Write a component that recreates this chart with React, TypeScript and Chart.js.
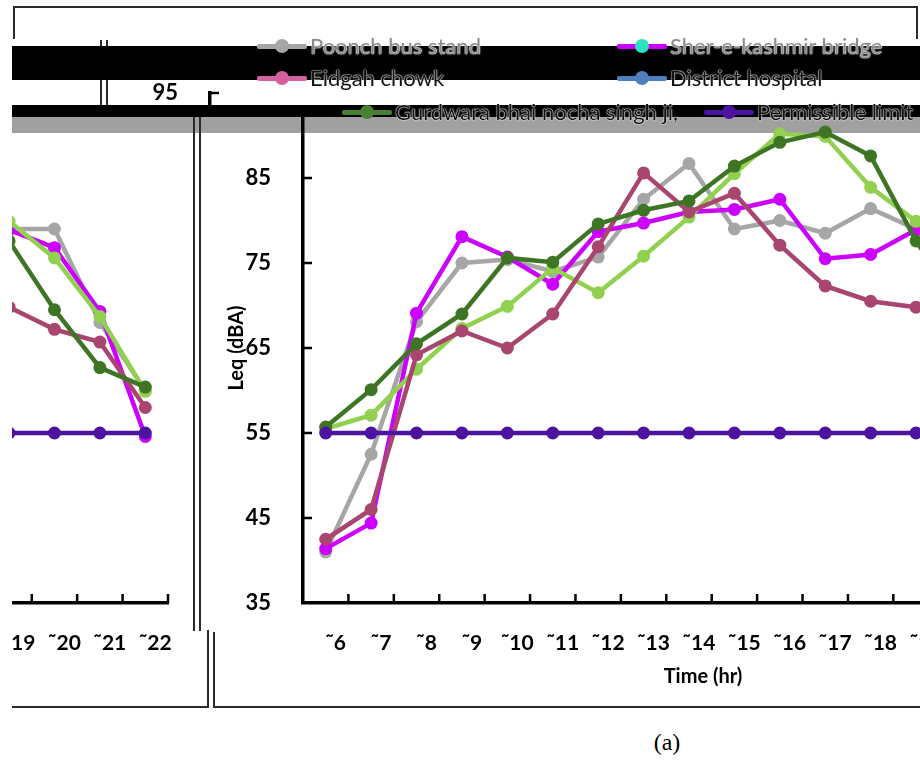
import React, { useEffect, useRef } from 'react';
import { Chart, registerables } from 'chart.js';

Chart.register(...registerables);

// ---------- data ----------
const hours = ['6', '7', '8', '9', '10', '11', '12', '13', '14', '15', '16', '17', '18', '19', '20', '21', '22'];
const tickPrefix = '\u02DC';
const yMin = 35;
const yMax = 95;
const yStep = 10;

const poonchBusStand = [41.0, 52.5, 68.1, 75.0, 75.4, 74.0, 75.7, 82.5, 86.7, 79.0, 80.0, 78.5, 81.4, 79.0, 79.0, 68.0, 60.0];
const sherEKashmirBridge = [41.4, 44.4, 69.1, 78.1, 75.7, 72.5, 78.7, 79.7, 81.0, 81.3, 82.5, 75.5, 76.0, 78.9, 76.8, 69.3, 54.6];
const eidgahChowk = [42.5, 46.0, 64.2, 67.0, 65.0, 69.0, 76.9, 85.6, 81.0, 83.2, 77.1, 72.3, 70.5, 69.8, 67.2, 65.7, 58.0];
const districtHospital = [55.5, 57.1, 62.5, 67.3, 69.9, 74.4, 71.5, 75.8, 80.4, 85.5, 90.2, 89.9, 83.9, 79.9, 75.6, 68.7, 59.9];
const gurdwaraBhaiNochaSinghJi = [55.7, 60.1, 65.5, 69.0, 75.6, 75.1, 79.6, 81.2, 82.3, 86.4, 89.2, 90.4, 87.6, 77.6, 69.5, 62.7, 60.4];
const permissibleLimit = [55, 55, 55, 55, 55, 55, 55, 55, 55, 55, 55, 55, 55, 55, 55, 55, 55];

// drawn top-most first
const seriesLabels = ['Permissible limit', 'Gurdwara bhai nocha singh ji', 'Eidgah chowk', 'District hospital', 'Sher-e-kashmir bridge', 'Poonch bus stand'];
const seriesData = [permissibleLimit, gurdwaraBhaiNochaSinghJi, eidgahChowk, districtHospital, sherEKashmirBridge, poonchBusStand];
const seriesColors = ['#4b139f', '#3e7524', '#a9466f', '#92d050', '#cc00ff', '#a6a6a6'];

// legend (as shown in the picture)
const legendLabels = ['Poonch bus stand', 'Sher-e-kashmir bridge', 'Eidgah chowk', 'District hospital', 'Gurdwara bhai nocha singh ji,', 'Permissible limit'];
const legendColors = ['#a6a6a6', '#cc00ff', '#d4609e', '#4f7fbf', '#4a8033', '#4b139f'];
const legendDotColors = ['#a6a6a6', '#2fe0c0', '#d4609e', '#4f7fbf', '#4a8033', '#4b139f'];
const legendTextColors = ['#8a8a8a', '#8a8a8a', '#111', '#111', '#111', '#111'];

const FONT = 'Lato, "Open Sans", sans-serif';
const CW = 1100;
const CH = 760;

const innerTicks = {
  id: 'innerTicks',
  afterDatasetsDraw(chart: any) {
    const { ctx, chartArea, scales } = chart;
    const xs = scales.x;
    const ys = scales.y;
    ctx.save();
    ctx.strokeStyle = '#000';
    ctx.lineWidth = 2.5;
    ctx.beginPath();
    ys.ticks.forEach((t: any) => {
      if (t.value === yMin) return;
      const py = ys.getPixelForValue(t.value);
      ctx.moveTo(chartArea.left, py);
      ctx.lineTo(chartArea.left + 9, py);
    });
    const n = xs.ticks.length;
    for (let i = 0; i < n; i++) {
      const px = i < n - 1 ? (xs.getPixelForValue(i) + xs.getPixelForValue(i + 1)) / 2 : chartArea.right;
      ctx.moveTo(px, chartArea.bottom);
      ctx.lineTo(px, chartArea.bottom - 9);
    }
    ctx.stroke();
    ctx.restore();
  },
};

function makeConfig(): any {
  return {
    type: 'line',
    data: {
      labels: hours.map((h) => tickPrefix + h),
      datasets: seriesLabels.map((label, i) => ({
        label,
        data: [...seriesData[i]],
        borderColor: seriesColors[i],
        backgroundColor: seriesColors[i],
        pointBackgroundColor: seriesColors[i],
        pointBorderColor: seriesColors[i],
        pointBorderWidth: 0,
        pointRadius: 6.5,
        borderWidth: 4.5,
        tension: 0,
        fill: false,
      })),
    },
    options: {
      responsive: false,
      animation: false,
      devicePixelRatio: 1,
      layout: { padding: { left: 203, top: 93, right: 25, bottom: 0 } },
      plugins: { legend: { display: false }, tooltip: { enabled: false } },
      scales: {
        x: {
          type: 'category',
          offset: true,
          grid: { display: false, offset: true },
          border: { display: true, color: '#000', width: 3.5 },
          ticks: {
            color: '#000',
            font: { family: FONT, size: 21, weight: 'bold' },
            padding: 20,
            labelOffset: 10,
            maxRotation: 0,
            autoSkip: false,
          },
          afterFit: (s: any) => {
            s.height = 157;
          },
        },
        y: {
          min: yMin,
          max: yMax,
          grid: { display: false },
          border: { display: true, color: '#000', width: 3.5 },
          ticks: {
            stepSize: yStep,
            color: '#000',
            padding: 24,
            font: { family: FONT, size: 22, weight: 'bold' },
          },
          title: {
            display: true,
            text: 'Leq (dBA)',
            color: '#000',
            font: { family: FONT, size: 20, weight: 'bold' },
            padding: { top: 22, bottom: 0 },
          },
          afterFit: (s: any) => {
            s.width = 100;
          },
        },
      },
    },
    plugins: [innerTicks],
  };
}

function ChartView({ left, top }: { left: number; top: number }) {
  const ref = useRef<HTMLCanvasElement | null>(null);
  useEffect(() => {
    if (!ref.current) return;
    const chart = new Chart(ref.current, makeConfig());
    return () => chart.destroy();
  }, []);
  return (
    <canvas
      ref={ref}
      width={CW}
      height={CH}
      style={{ position: 'absolute', left, top, width: CW, height: CH, display: 'block' }}
    />
  );
}

function Clip({ x, y, w, h, shift }: { x: number; y: number; w: number; h: number; shift: number }) {
  return (
    <div style={{ position: 'absolute', left: x, top: y, width: w, height: h, overflow: 'hidden' }}>
      <ChartView left={shift - x} top={-y} />
    </div>
  );
}

function Box({ x, y, w, h, c }: { x: number; y: number; w: number; h: number; c: string }) {
  return <div style={{ position: 'absolute', left: x, top: y, width: w, height: h, background: c }} />;
}

function LegendItem({ dotX, y, idx }: { dotX: number; y: number; idx: number }) {
  return (
    <>
      <div style={{ position: 'absolute', left: dotX - 25, top: y - 2.5, width: 50, height: 5, background: legendColors[idx], borderRadius: 2 }} />
      <div style={{ position: 'absolute', left: dotX - 7, top: y - 7, width: 14, height: 14, borderRadius: 7, background: legendDotColors[idx] }} />
      <div
        style={{
          position: 'absolute',
          left: dotX + 28,
          top: y - 14,
          height: 28,
          lineHeight: '28px',
          fontFamily: FONT,
          fontSize: 22,
          color: legendTextColors[idx],
          whiteSpace: 'nowrap',
          textShadow: '0 0 1px #fff, 0 0 1px #fff, 0 0 2px #ddd',
        }}
      >
        {legendLabels[idx]}
      </div>
    </>
  );
}

export default function App() {
  const line = '#2a2a2a';
  return (
    <div style={{ position: 'absolute', left: 0, top: 0, width: 920, height: 760, overflow: 'hidden', background: '#fff' }}>
      {/* gray band behind the plot */}
      <Box x={12} y={117} w={908} h={16} c="#a0a0a0" />

      {/* wrapped right end of the chart */}
      <Clip x={12} y={105} w={182} h={602} shift={-907} />
      {/* main chart */}
      <Clip x={200} y={105} w={720} h={602} shift={0} />
      {/* shifted strip near the top */}
      <Clip x={12} y={38} w={908} h={67} shift={-93} />

      {/* x axis title */}
      <div
        style={{
          position: 'absolute',
          left: 603,
          top: 663,
          width: 200,
          textAlign: 'center',
          fontFamily: FONT,
          fontWeight: 'bold',
          fontSize: 20,
          lineHeight: '24px',
          color: '#000',
        }}
      >
        Time (hr)
      </div>

      {/* frame lines */}
      <Box x={14} y={6} w={903} h={2} c={line} />
      <Box x={13} y={6} w={2} h={33} c={line} />
      <Box x={916} y={6} w={2} h={33} c={line} />
      <Box x={100} y={40} w={2} h={65} c={line} />
      <Box x={106} y={40} w={2} h={65} c={line} />
      <Box x={193} y={105} w={2} h={526} c={line} />
      <Box x={199} y={105} w={2} h={526} c={line} />
      <Box x={207} y={630} w={2} h={78} c={line} />
      <Box x={213} y={632} w={2} h={76} c={line} />
      <Box x={12} y={706} w={197} h={2} c={line} />
      <Box x={213} y={706} w={707} h={2} c={line} />

      {/* black bands */}
      <Box x={12} y={46} w={908} h={34} c="#000" />
      <Box x={12} y={105} w={908} h={12} c="#000" />

      {/* legend */}
      <LegendItem dotX={282} y={46} idx={0} />
      <LegendItem dotX={642} y={46} idx={1} />
      <LegendItem dotX={282} y={78} idx={2} />
      <LegendItem dotX={642} y={78} idx={3} />
      <LegendItem dotX={367} y={112} idx={4} />
      <LegendItem dotX={729} y={112} idx={5} />

      <div
        style={{
          position: 'absolute',
          left: 617,
          top: 728,
          width: 100,
          textAlign: 'center',
          fontFamily: '"Liberation Serif", "DejaVu Serif", serif',
          fontSize: 24,
          lineHeight: '28px',
          color: '#000',
        }}
      >
        (a)
      </div>
    </div>
  );
}
